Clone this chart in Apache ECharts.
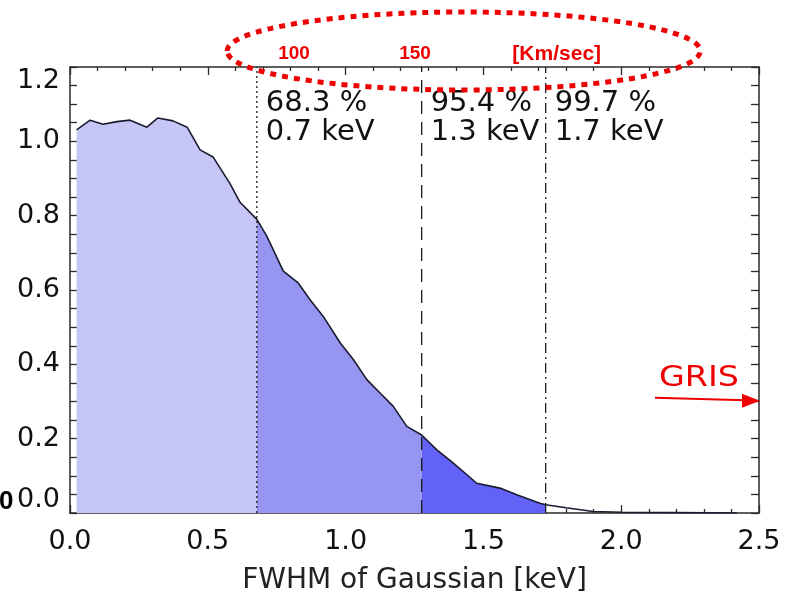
<!DOCTYPE html>
<html>
<head>
<meta charset="utf-8">
<title>FWHM of Gaussian</title>
<script src="https://cdn.jsdelivr.net/npm/echarts@6/dist/echarts.min.js"></script>
<style>
  html, body { margin: 0; padding: 0; background: #fff; }
  #chart { width: 790px; height: 595px; }
</style>
</head>
<body>
<div id="chart"></div>
<script>
// Probability curve versus Gaussian FWHM
const keV = [0.024, 0.073, 0.12, 0.17, 0.218, 0.279, 0.319, 0.374, 0.425, 0.472,
  0.519, 0.58, 0.617, 0.678, 0.714, 0.774, 0.828, 0.871, 0.919, 0.98, 1.028,
  1.077, 1.125, 1.173, 1.222, 1.276, 1.331, 1.391, 1.476, 1.56, 1.621, 1.705,
  1.726, 1.8, 1.898, 2.0, 2.2, 2.42];
const intensity = [1.031, 1.057, 1.046, 1.053, 1.057, 1.038, 1.063, 1.055, 1.038, 0.977,
  0.958, 0.887, 0.836, 0.79, 0.745, 0.651, 0.619, 0.574, 0.529, 0.458, 0.413,
  0.359, 0.323, 0.287, 0.233, 0.21, 0.17, 0.134, 0.08, 0.067, 0.049, 0.026,
  0.022, 0.014, 0.004, 0.002, 0.001, 0.0];

// Confidence limits (keV) and their captions
const limits = [0.678, 1.276, 1.726];
const limitPercent = ['68.3 %', '95.4 %', '99.7 %'];
const limitEnergy = ['0.7 keV', '1.3 keV', '1.7 keV'];
const limitDash = [[2, 3], [13, 8], [10, 4, 2, 4]];
const bandColors = ['#c6c6f6', '#9696f2', '#6262f6'];

// Velocity scale written along the top edge
const velocityText = ['100', '150', '[Km/sec]'];
const velocityAt = [0.813, 1.252, 1.766];

const xTicks = { min: 0, max: 2.5, interval: 0.5 };
const yTicks = { min: 0, max: 1.2, interval: 0.2 };

const FONT = 'DejaVu Sans';
const AXIS_COLOR = '#2a2a2a';

const pairs = keV.map((x, i) => [x, intensity[i]]);
const cut = limits.map(v => keV.indexOf(v));
const bands = [
  pairs.slice(0, cut[0] + 1),
  pairs.slice(cut[0], cut[1] + 1),
  pairs.slice(cut[1], cut[2] + 1)
];

const chart = echarts.init(document.getElementById('chart'));

const series = [];
bands.forEach((band, i) => {
  series.push({
    type: 'line', data: band, symbol: 'none', silent: true,
    lineStyle: { width: 0 },
    areaStyle: { color: bandColors[i], opacity: 1 },
    z: 1
  });
});
series.push({
  type: 'line', data: pairs, symbol: 'none', silent: true,
  lineStyle: { color: '#1b1b30', width: 1.6 },
  z: 3
});
limits.forEach((v, i) => {
  series.push({
    type: 'line', data: [[v, yTicks.min], [v, yTicks.max]], symbol: 'none', silent: true,
    lineStyle: { color: '#1b1b1b', width: 1.3, type: limitDash[i] },
    z: 4
  });
});

const lineStyle = { color: AXIS_COLOR, width: 1.5 };
const tickStyle = { color: AXIS_COLOR, width: 1.3 };

const xAxisBase = {
  type: 'value', min: xTicks.min, max: xTicks.max, interval: xTicks.interval,
  axisLine: { show: true, onZero: false, lineStyle: lineStyle },
  axisTick: { show: true, inside: true, length: 8, lineStyle: tickStyle },
  minorTick: { show: true, splitNumber: 5, length: 4, lineStyle: tickStyle },
  splitLine: { show: false }
};

chart.setOption({
  animation: false,
  grid: { left: 70, right: 31, top: 67, bottom: 82, containLabel: false, outerBoundsMode: 'none' },
  xAxis: [
    Object.assign({}, xAxisBase, {
      position: 'bottom',
      name: 'FWHM of Gaussian [keV]', nameLocation: 'middle', nameGap: 54,
      nameTextStyle: { fontFamily: FONT, fontSize: 28, color: '#222' },
      axisLabel: {
        margin: 15, fontFamily: FONT, fontSize: 27, color: '#111',
        formatter: v => v.toFixed(1)
      }
    }),
    Object.assign({}, xAxisBase, { position: 'top', axisLabel: { show: false } })
  ],
  yAxis: [
    {
      type: 'value', min: yTicks.min, max: yTicks.max, interval: yTicks.interval,
      position: 'left',
      axisLine: { show: true, onZero: false, lineStyle: lineStyle },
      axisTick: { show: true, inside: true, length: 7, lineStyle: tickStyle },
      minorTick: { show: true, splitNumber: 4, length: 7, lineStyle: tickStyle },
      splitLine: { show: false },
      axisLabel: {
        margin: 10, fontFamily: FONT, fontSize: 27, color: '#111',
        formatter: v => v.toFixed(1),
        verticalAlignMinLabel: 'bottom',
        verticalAlignMaxLabel: 'top'
      }
    },
    {
      type: 'value', min: yTicks.min, max: yTicks.max, interval: yTicks.interval / 4,
      position: 'right',
      axisLine: { show: true, onZero: false, lineStyle: lineStyle },
      axisTick: { show: true, inside: true, length: 8, lineStyle: tickStyle },
      splitLine: { show: false },
      axisLabel: { show: false }
    }
  ],
  series: series
});

// Annotations placed through the axis scales
function px(x, y) { return chart.convertToPixel({ xAxisIndex: 0, yAxisIndex: 0 }, [x, y]); }

const graphics = [];
limits.forEach((v, i) => {
  const p = px(v, yTicks.max);
  graphics.push({
    type: 'text', x: p[0] + 9, y: p[1] + 36, z: 10,
    style: { text: limitPercent[i], font: '29px "' + FONT + '"', fill: '#111', verticalAlign: 'middle' }
  });
  graphics.push({
    type: 'text', x: p[0] + 9, y: p[1] + 65, z: 10,
    style: { text: limitEnergy[i], font: '29px "' + FONT + '"', fill: '#111', verticalAlign: 'middle' }
  });
});

const plotTop = px(0, yTicks.max)[1];
velocityText.forEach((t, i) => {
  const p = px(velocityAt[i], yTicks.max);
  graphics.push({
    type: 'text', x: p[0], y: plotTop - 13, z: 10,
    style: {
      text: t, font: 'bold ' + (i === 2 ? 21 : 19) + 'px "Liberation Sans"',
      fill: '#ee0000', align: 'center', verticalAlign: 'middle'
    }
  });
});

// Dotted red ellipse round the velocity scale
const eL = px(0.57, 0)[0], eR = px(2.287, 0)[0];
graphics.push({
  type: 'ellipse', z: 11, silent: true,
  shape: { cx: (eL + eR) / 2, cy: plotTop - 16, rx: (eR - eL) / 2, ry: 39 },
  style: { fill: 'none', stroke: '#ee0000', lineWidth: 5, lineDash: [6, 6] }
});

// GRIS marker pointing at the right edge
const tip = px(xTicks.max, 0.302);
graphics.push({
  type: 'text', x: tip[0] - 100, y: tip[1] - 22, z: 10, scaleX: 1.15,
  style: { text: 'GRIS', font: '29px "DejaVu Sans"', fill: '#ee0000', verticalAlign: 'middle' }
});
graphics.push({
  type: 'line', z: 10, silent: true,
  shape: { x1: tip[0] - 104, y1: tip[1] - 3, x2: tip[0] - 14, y2: tip[1] - 0.5 },
  style: { stroke: '#ee0000', lineWidth: 2 }
});
graphics.push({
  type: 'polygon', z: 10, silent: true,
  shape: { points: [[tip[0] + 1, tip[1]], [tip[0] - 17, tip[1] - 7], [tip[0] - 17, tip[1] + 7]] },
  style: { fill: '#ee0000' }
});

// Bold zero at the left margin
graphics.push({
  type: 'text', x: -1, y: px(0, 0)[1] - 11, z: 10,
  style: { text: '0', font: 'bold 26px "Liberation Sans"', fill: '#000', verticalAlign: 'middle' }
});

chart.setOption({ graphic: graphics });
</script>
</body>
</html>
